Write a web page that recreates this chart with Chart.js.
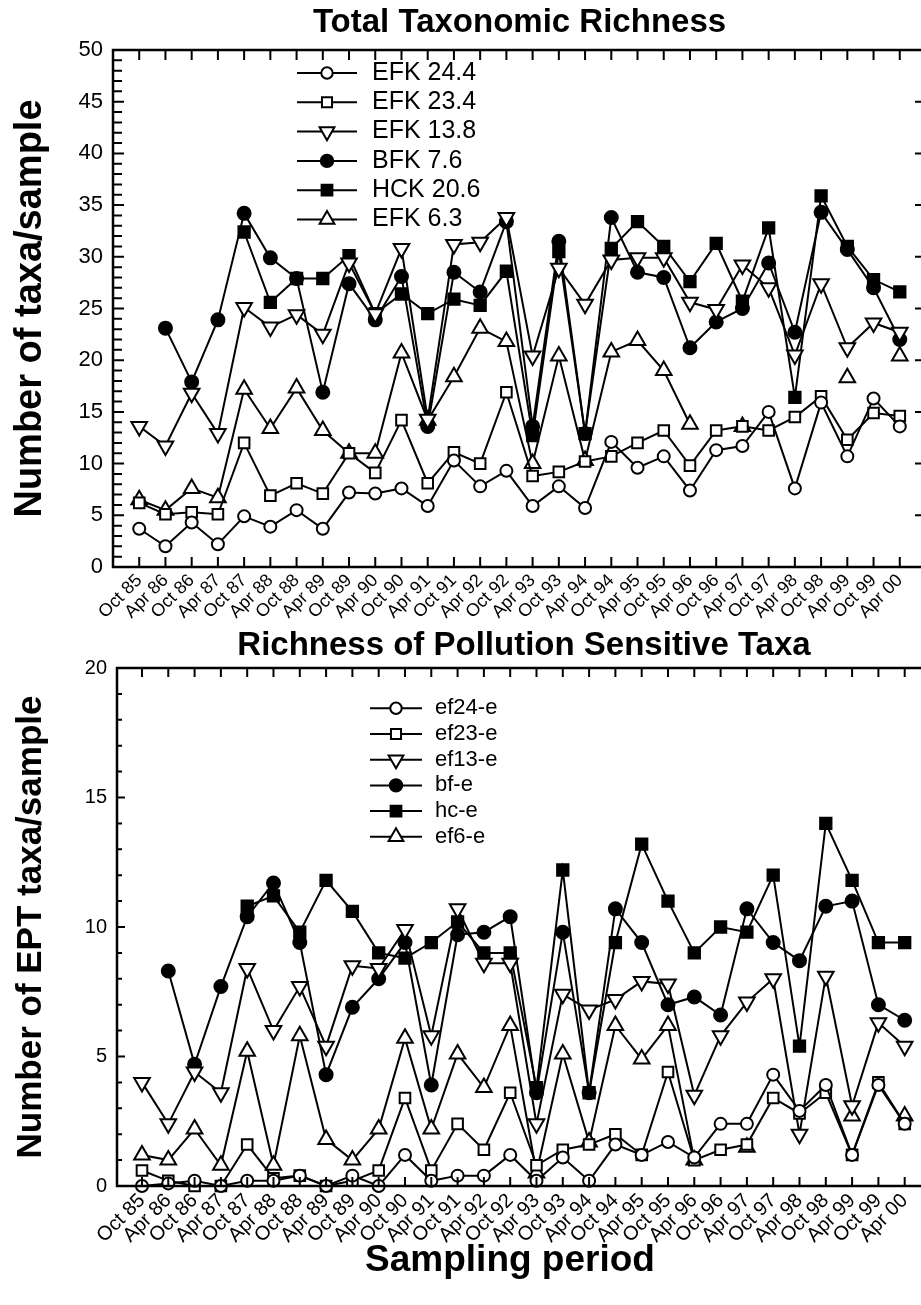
<!DOCTYPE html>
<html>
<head>
<meta charset="utf-8">
<script src="https://cdn.jsdelivr.net/npm/chart.js@4.4.0/dist/chart.umd.min.js"></script>
<style>
html,body{margin:0;padding:0;background:#fff;overflow:hidden;width:921px;height:1305px}
#top{position:absolute;left:0;top:0}
#bottom{position:absolute;left:0;top:600px}
</style>
</head>
<body>
<canvas id="top" width="937" height="620"></canvas>
<canvas id="bottom" width="942" height="705"></canvas>
<script>
const periods = ['Oct 85','Apr 86','Oct 86','Apr 87','Oct 87','Apr 88','Oct 88','Apr 89','Oct 89','Apr 90',
  'Oct 90','Apr 91','Oct 91','Apr 92','Oct 92','Apr 93','Oct 93','Apr 94','Oct 94','Apr 95',
  'Oct 95','Apr 96','Oct 96','Apr 97','Oct 97','Apr 98','Oct 98','Apr 99','Oct 99','Apr 00'];

// total richness (taxa/sample)
const efk244 = [3.7,2.0,4.3,2.2,4.9,3.9,5.5,3.7,7.2,7.1,7.6,5.9,10.3,7.8,9.3,5.9,7.8,5.7,12.1,9.6,10.7,7.4,11.3,11.7,15.0,7.6,15.9,10.7,16.3,13.6];
const efk234 = [6.2,5.1,5.3,5.1,12.0,6.9,8.1,7.1,11.0,9.1,14.2,8.1,11.1,10.0,16.9,8.8,9.2,10.2,10.7,12.0,13.2,9.8,13.2,13.6,13.2,14.5,16.5,12.3,14.9,14.6];
const efk138 = [13.6,11.7,16.8,12.9,25.1,23.2,24.4,22.5,29.4,24.5,30.8,14.3,31.2,31.4,33.8,20.4,28.9,25.4,29.7,29.9,29.9,25.6,24.9,29.2,27.0,20.5,27.4,21.2,23.6,22.7];
const bfk76 = [null,23.1,17.9,23.9,34.2,29.9,27.9,16.9,27.4,23.9,28.1,13.6,28.5,26.6,33.4,13.6,31.5,12.9,33.8,28.5,28.0,21.2,23.7,25.0,29.4,22.7,34.3,30.7,27.0,22.0];
const hck206 = [null,null,null,null,32.4,25.6,27.9,27.9,30.1,24.5,26.4,24.5,25.9,25.3,28.6,12.7,30.5,12.9,30.8,33.4,31.0,27.6,31.3,25.7,32.8,16.4,35.9,31.0,27.8,26.6];
const efk63 = [6.5,5.5,7.6,6.7,17.2,13.4,17.3,13.2,11.0,11.0,20.7,14.2,18.4,23.1,21.8,10.0,20.4,10.3,20.8,21.9,19.0,13.8,null,13.6,null,null,null,18.3,null,20.4];

// EPT richness
const ef24e = [0,0.1,0.2,0,0.2,0.2,0.4,0,0.4,0,1.2,0.2,0.4,0.4,1.2,0.2,1.1,0.2,1.6,1.2,1.7,1.1,2.4,2.4,4.3,2.9,3.9,1.2,3.9,2.4];
const ef23e = [0.6,0.2,0,0,1.6,0.3,0.4,0,0.2,0.6,3.4,0.6,2.4,1.4,3.6,0.8,1.4,1.6,2.0,1.2,4.4,1.0,1.4,1.6,3.4,2.8,3.6,1.2,4.0,2.4];
const ef13e = [4.0,2.4,4.4,3.6,8.4,6.0,7.7,5.4,8.5,8.4,9.9,5.8,10.7,8.6,8.6,2.4,7.4,6.8,7.2,7.9,7.8,3.5,5.8,7.1,8.0,2.0,8.1,3.1,6.3,5.4];
const bfe = [null,8.3,4.7,7.7,10.4,11.7,9.4,4.3,6.9,8.0,9.4,3.9,9.7,9.8,10.4,3.6,9.8,3.6,10.7,9.4,7.0,7.3,6.6,10.7,9.4,8.7,10.8,11.0,7.0,6.4];
const hce = [null,null,null,null,10.8,11.2,9.8,11.8,10.6,9.0,8.8,9.4,10.2,9.0,9.0,3.8,12.2,3.6,9.4,13.2,11.0,9.0,10.0,9.8,12.0,5.4,14.0,11.8,9.4,9.4];
const ef6e = [1.2,1.0,2.2,0.8,5.2,0.8,5.8,1.8,1.0,2.2,5.7,2.2,5.1,3.8,6.2,0.5,5.1,1.7,6.2,4.9,6.2,1.0,null,1.5,null,null,null,2.7,null,2.7];

const FONT = "'Liberation Sans', Arial, sans-serif";
Chart.defaults.font.family = FONT;
Chart.defaults.color = '#000';

function series(label, data, style, filled, radius, rot) {
  return {
    label, data,
    pointStyle: style, pointRotation: rot || 0,
    pointRadius: radius, pointHoverRadius: radius,
    pointBackgroundColor: filled ? '#000' : '#fff',
    pointBorderColor: '#000', pointBorderWidth: 2,
    borderColor: '#000', borderWidth: 2,
    fill: false, tension: 0, clip: false
  };
}

// box round the plot with the small inward ticks
const frame = {
  id: 'frame',
  afterDatasetsDraw(chart, args, o) {
    const {ctx, chartArea: a, scales: {x, y}} = chart;
    ctx.save();
    ctx.strokeStyle = '#000';
    ctx.lineWidth = 2.5;
    ctx.strokeRect(a.left, a.top, a.right - a.left, a.bottom - a.top);
    ctx.lineWidth = 2;
    ctx.beginPath();
    periods.forEach((p, i) => {
      const px = x.getPixelForValue(i);
      ctx.moveTo(px, a.bottom); ctx.lineTo(px, a.bottom - o.xTick);
      ctx.moveTo(px, a.top); ctx.lineTo(px, a.top + o.xTick);
    });
    for (let v = y.min; v <= y.max; v++) {
      const py = y.getPixelForValue(v);
      const major = v % 5 === 0;
      ctx.moveTo(a.left, py); ctx.lineTo(a.left + (major ? o.major : o.minor), py);
      if (major && o.rightTicks) { ctx.moveTo(a.right, py); ctx.lineTo(a.right - o.major, py); }
    }
    ctx.stroke();
    ctx.restore();
  }
};

// legend with line-marker-line samples, plus a free caption
const keyBox = {
  id: 'keyBox',
  afterDraw(chart, args, o) {
    const ctx = chart.ctx;
    ctx.save();
    ctx.font = o.font;
    ctx.textBaseline = 'middle';
    chart.data.datasets.forEach((ds, i) => {
      const yy = o.y + i * o.step;
      ctx.strokeStyle = '#000';
      ctx.lineWidth = 2;
      ctx.beginPath(); ctx.moveTo(o.x0, yy); ctx.lineTo(o.x1, yy); ctx.stroke();
      ctx.fillStyle = ds.pointBackgroundColor;
      Chart.helpers.drawPoint(ctx, {pointStyle: ds.pointStyle, rotation: ds.pointRotation, radius: ds.pointRadius * 0.95, borderWidth: 2}, (o.x0 + o.x1) / 2, yy);
      ctx.fillStyle = '#000';
      ctx.fillText(ds.label, o.tx, yy);
    });
    if (o.caption) {
      ctx.font = o.caption.font;
      ctx.textAlign = 'center';
      ctx.fillText(o.caption.text, o.caption.x, o.caption.y);
    }
    ctx.restore();
  }
};

function xScale(height, min, max, labelSize) {
  return {
    type: 'linear', min: min, max: max,
    afterBuildTicks: s => { s.ticks = periods.map((p, i) => ({value: i})); },
    afterFit: s => { s.height = height; },
    grid: {display: false, drawTicks: false},
    border: {display: false},
    ticks: {autoSkip: false, minRotation: 45, maxRotation: 45, padding: 3,
      font: {size: labelSize}, callback: v => periods[v]}
  };
}

function yScale(width, max, labelSize, text, titleSize, titlePad) {
  return {
    min: 0, max: max,
    afterFit: s => { s.width = width; },
    grid: {display: false, drawTicks: false},
    border: {display: false},
    ticks: {stepSize: 5, padding: 10, font: {size: labelSize}},
    title: {display: true, text: text, font: {size: titleSize, weight: 'bold'}, padding: {top: titlePad, bottom: 0}}
  };
}

new Chart(document.getElementById('top'), {
  type: 'line',
  data: {
    labels: periods.map((p, i) => i),
    datasets: [
      series('EFK 24.4', efk244, 'circle', false, 6),
      series('EFK 23.4', efk234, 'rect', false, 7.5),
      series('EFK 13.8', efk138, 'triangle', false, 9, 180),
      series('BFK 7.6', bfk76, 'circle', true, 6.5),
      series('HCK 20.6', hck206, 'rect', true, 8),
      series('EFK 6.3', efk63, 'triangle', false, 9)
    ]
  },
  options: {
    responsive: false,
    animation: false,
    layout: {padding: {left: 0, right: 3, top: 0, bottom: 0}},
    plugins: {
      legend: {display: false},
      tooltip: {enabled: false},
      title: {display: true, text: 'Total Taxonomic Richness', fullSize: false,
        font: {size: 33, weight: 'bold'}, padding: {top: 3, bottom: 7.4}},
      frame: {xTick: 10, major: 11, minor: 9, rightTicks: true},
      keyBox: {x0: 297, x1: 357, tx: 372, y: 73, step: 29.3, font: '25px ' + FONT}
    },
    scales: {
      x: xScale(53, -1, 30, 18),
      y: yScale(113, 50, 22, 'Number of taxa/sample', 38, 8)
    }
  },
  plugins: [frame, keyBox]
});

new Chart(document.getElementById('bottom'), {
  type: 'line',
  data: {
    labels: periods.map((p, i) => i),
    datasets: [
      series('ef24-e', ef24e, 'circle', false, 6),
      series('ef23-e', ef23e, 'rect', false, 7.5),
      series('ef13-e', ef13e, 'triangle', false, 9, 180),
      series('bf-e', bfe, 'circle', true, 6.5),
      series('hc-e', hce, 'rect', true, 8),
      series('ef6-e', ef6e, 'triangle', false, 9)
    ]
  },
  options: {
    responsive: false,
    animation: false,
    layout: {padding: {left: 0, right: 4, top: 0, bottom: 0}},
    plugins: {
      legend: {display: false},
      tooltip: {enabled: false},
      title: {display: true, text: 'Richness of Pollution Sensitive Taxa', fullSize: false,
        font: {size: 33, weight: 'bold'}, padding: {top: 26.5, bottom: 1.9}},
      frame: {xTick: 9, major: 8, minor: 5, rightTicks: false},
      keyBox: {x0: 370, x1: 422, tx: 435, y: 108.3, step: 25.7, font: '22px ' + FONT,
        caption: {text: 'Sampling period', x: 510, y: 661, font: 'bold 37px ' + FONT}}
    },
    scales: {
      x: xScale(119, -0.95, 30, 20),
      y: yScale(117, 20, 20, 'Number of EPT taxa/sample', 35, 10)
    }
  },
  plugins: [frame, keyBox]
});
</script>
</body>
</html>
